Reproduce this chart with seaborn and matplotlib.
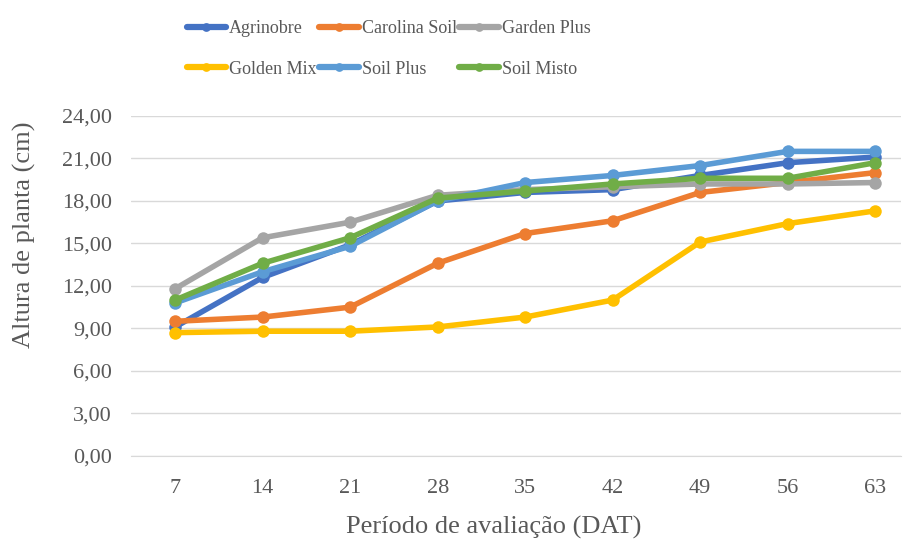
import pandas as pd
import seaborn as sns
from matplotlib import pyplot as plt
from matplotlib.ticker import FuncFormatter

# valores
dat = [7, 14, 21, 28, 35, 42, 49, 56, 63]
agrinobre = [9.1, 12.6, 14.9, 18.0, 18.6, 18.8, 19.8, 20.7, 21.1]
carolina_soil = [9.5, 9.8, 10.5, 13.6, 15.7, 16.6, 18.6, 19.3, 20.0]
garden_plus = [11.8, 15.4, 16.5, 18.4, 18.8, 19.0, 19.2, 19.2, 19.3]
golden_mix = [8.7, 8.8, 8.8, 9.1, 9.8, 11.0, 15.1, 16.4, 17.3]
soil_plus = [10.8, 13.0, 14.8, 18.0, 19.3, 19.8, 20.5, 21.5, 21.5]
soil_misto = [11.0, 13.6, 15.4, 18.2, 18.7, 19.2, 19.6, 19.6, 20.7]

series = {
    "Agrinobre": agrinobre,
    "Carolina Soil": carolina_soil,
    "Garden Plus": garden_plus,
    "Golden Mix": golden_mix,
    "Soil Plus": soil_plus,
    "Soil Misto": soil_misto,
}
cores = ["#4472C4", "#ED7D31", "#A5A5A5", "#FFC000", "#5B9BD5", "#70AD47"]

df = pd.concat(
    [pd.DataFrame({"idx": range(len(dat)), "altura": v, "substrato": k})
     for k, v in series.items()],
    ignore_index=True)

sns.set_style("white")
plt.rcParams['font.family'] = ['Liberation Serif', 'DejaVu Serif']
txt = "#595959"

fig = plt.figure(figsize=(9.06, 5.42), dpi=100)
ax = fig.add_axes([0.145, 0.159, 0.85, 0.627])

sns.lineplot(data=df, x="idx", y="altura", hue="substrato",
             palette=cores, marker="o", markersize=9, markeredgewidth=0,
             linewidth=4, dashes=False, ax=ax, legend=True)

ax.set_xlim(-0.5, 8.3)
ax.set_ylim(0, 24)
ax.set_yticks(range(0, 25, 3))
ax.yaxis.set_major_formatter(FuncFormatter(lambda v, p: f"{v:.2f}".replace(".", ",")))
ax.set_xticks(range(len(dat)))
ax.set_xticklabels([str(d) for d in dat])
ax.grid(axis="y", color="#D9D9D9", linewidth=1)
ax.set_axisbelow(True)
for s in ["top", "right", "left"]:
    ax.spines[s].set_visible(False)
ax.spines["bottom"].set_color("#D9D9D9")
ax.tick_params(axis="both", colors=txt, labelsize=16, length=0)
ax.tick_params(axis="x", pad=17)
ax.tick_params(axis="y", pad=14)

ax.set_xlabel("Período de avaliação (DAT)", fontsize=19, color=txt)
ax.set_ylabel("Altura de planta (cm)", fontsize=19, color=txt)
ax.xaxis.set_label_coords(0.471, -0.176)
ax.yaxis.set_label_coords(-0.124, 0.65)

h, l = ax.get_legend_handles_labels()
ax.get_legend().remove()
# preencher por linhas (matplotlib preenche por colunas)
ordem = [0, 3, 1, 4, 2, 5]
leg = fig.legend([h[i] for i in ordem], [l[i] for i in ordem],
                 loc="upper left", bbox_to_anchor=(0.188, 0.993), ncol=3,
                 frameon=False, fontsize=13, labelcolor=txt, handlelength=2.2,
                 handletextpad=0.15, columnspacing=0.15, labelspacing=1.3,
                 markerscale=0.7)
for ln in leg.get_lines():
    ln.set_linewidth(4.5)

plt.savefig("out.png", dpi=100)
